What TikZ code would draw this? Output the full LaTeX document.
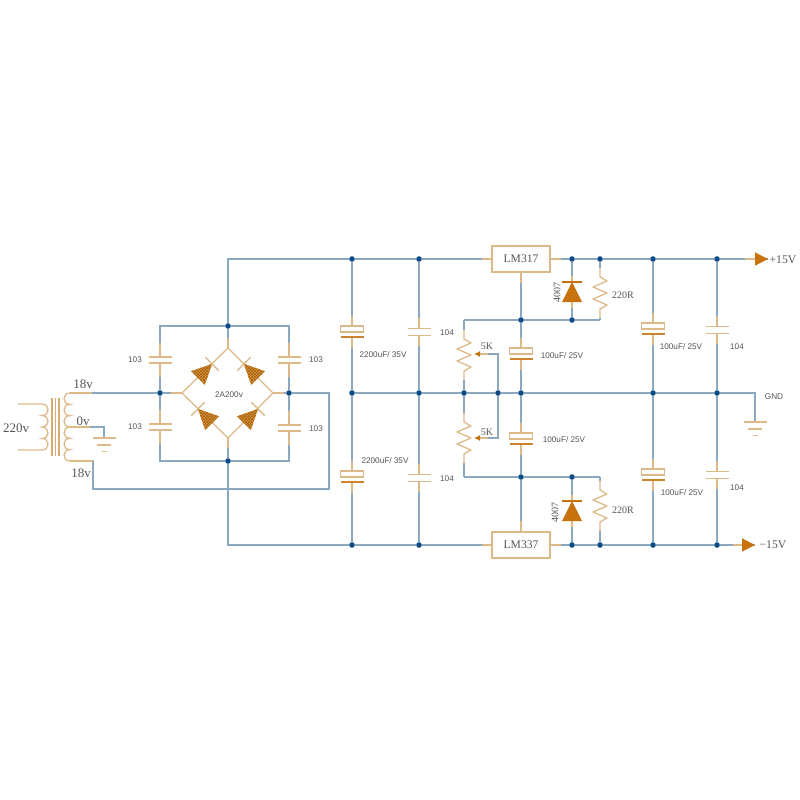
\documentclass[tikz,border=0pt]{standalone}
\usepackage{fontspec}
\setmainfont{Liberation Serif}
\setsansfont{Liberation Sans}
\usetikzlibrary{arrows.meta,patterns}

\definecolor{wirecol}{HTML}{8AA8C0}
\definecolor{leadcol}{HTML}{DDB98A}
\definecolor{dotcol}{HTML}{0E4A85}
\definecolor{partcol}{HTML}{C8720E}
\definecolor{meshcol}{HTML}{D4923F}
\definecolor{textcol}{HTML}{555555}

\tikzset{
	wire/.style={draw=wirecol, line width=1.3pt},
	lead/.style={draw=leadcol, line width=1.3pt},
	dot/.style={circle, fill=dotcol, inner sep=0pt, minimum size=5.6pt},
	lblsans/.style={text=textcol, inner sep=0pt, font=\sffamily\fontsize{8.2}{10}\selectfont},
	lblserif/.style={text=textcol, inner sep=0pt, font=\rmfamily\fontsize{13}{15}\selectfont},
	lblsmall/.style={text=textcol, inner sep=0pt, font=\rmfamily\fontsize{10}{12}\selectfont},
	regbox/.style={draw=leadcol, line width=1.3pt, fill=white, minimum width=58pt, minimum height=26pt, inner sep=0pt, text=textcol, font=\rmfamily\fontsize{11.6}{13}\selectfont},
	capfilm/.pic={
		\coordinate (-t) at (0,-14);
		\coordinate (-b) at (0,14);
		\draw[lead] (-t) -- (0,-3.5);
		\draw[lead] (-b) -- (0,3.5);
		\draw[lead] (-11.5,-3.5) -- (11.5,-3.5);
		\draw[lead] (-11.5,3.5) -- (11.5,3.5);
	},
	capsmall/.pic={
		\coordinate (-t) at (0,-17);
		\coordinate (-b) at (0,17);
		\draw[lead] (-t) -- (0,-3);
		\draw[lead] (-b) -- (0,3);
		\draw[lead] (-11.5,-3) -- (11.5,-3);
		\draw[lead] (-11.5,3) -- (11.5,3);
	},
	capelec/.pic={
		\coordinate (-t) at (0,-13);
		\coordinate (-b) at (0,19);
		\draw[lead] (-t) -- (0,-3);
		\draw[lead] (-b) -- (0,8);
		\draw[lead, fill=white] (-11.5,-3) rectangle (11.5,3);
		\fill[partcol!75!leadcol] (-11.5,7) rectangle (11.5,9);
	},
	resist/.pic={
		\coordinate (-t) at (0,-25);
		\coordinate (-b) at (0,25);
		\draw[lead, line join=round] (-t) -- (0,-16) -- (7,-12) -- (-7,-6) -- (7,0) -- (-7,6) -- (7,12) -- (0,16) -- (-b);
	},
	diodesolid/.pic={
		\coordinate (-t) at (0,-16);
		\coordinate (-b) at (0,16);
		\draw[lead] (-t) -- (0,-10);
		\draw[lead] (-b) -- (0,10);
		\fill[partcol] (0,-10) -- (10,10) -- (-10,10) -- cycle;
		\draw[partcol, line width=1.4pt] (-10,-10) -- (10,-10);
	},
	diodemesh/.pic={
		\fill[meshcol] (10,0) -- (-10,9.7) -- (-10,-9.7) -- cycle;
		\path[pattern=crosshatch, pattern color=partcol!85!black] (10,0) -- (-10,9.7) -- (-10,-9.7) -- cycle;
		\draw[lead] (10,-9.5) -- (10,9.5);
	},
}

\begin{document}
\begin{tikzpicture}[x=1pt, y=-1pt]
	\useasboundingbox (0,0) rectangle (800,800);

	% Junctions
	\foreach \n/\x/\y in {
		brtop/228/326, brbot/228/461, brleft/160/393, brright/289/393,
		topa/352/259, topb/419/259, topc/572/259, topd/600/259, tope/653/259, topf/717/259,
		mida/352/393, midb/419/393, midc/464/393, midd/498/393, mide/521/393, midf/653/393, midg/717/393,
		upa/521/320, upb/572/320,
		lowa/521/477, lowb/572/477,
		bota/352/545, botb/419/545, botc/572/545, botd/600/545, bote/653/545, botf/717/545}
		\node (\n) [dot] at (\x,\y) {};

	% Free ends and corners
	\coordinate (brtv) at (228,348);
	\coordinate (brlv) at (182,393);
	\coordinate (brrv) at (273,393);
	\coordinate (brbv) at (228,438);
	\coordinate (railtop) at (228,259);
	\coordinate (railbot) at (228,545);
	\coordinate (sectop) at (70,393);
	\coordinate (sectap) at (70,427);
	\coordinate (secbot) at (70,461);
	\coordinate (prmtop) at (42,404);
	\coordinate (prmbot) at (42,450);
	\coordinate (prmtopend) at (18,404);
	\coordinate (prmbotend) at (18,450);
	\coordinate (gndl) at (104,438);
	\coordinate (gndr) at (755,422);
	\coordinate (vpos) at (768,259);
	\coordinate (vneg) at (755,545);
	\coordinate (wipera) at (474,354);
	\coordinate (wiperb) at (474,438);
	\coordinate (upleft) at (464,320);
	\coordinate (upright) at (600,320);
	\coordinate (lowleft) at (464,477);
	\coordinate (lowright) at (600,477);

	% Regulators
	\node (lmpos) [regbox] at (521,259) {LM317};
	\node (lmneg) [regbox] at (521,545) {LM337};

	% Parts
	\pic (cba) at (160,360) {capsmall};
	\pic (cbb) at (160,427) {capsmall};
	\pic (cbc) at (289,360) {capsmall};
	\pic (cbd) at (289,428) {capsmall};
	\pic (cea) at (352,329) {capelec};
	\pic (ceb) at (352,474) {capelec};
	\pic (cfa) at (419,332) {capfilm};
	\pic (cfb) at (419,478) {capfilm};
	\pic (cec) at (521,351) {capelec};
	\pic (ced) at (521,436) {capelec};
	\pic (cee) at (653,326) {capelec};
	\pic (cef) at (653,472) {capelec};
	\pic (cfc) at (717,330) {capfilm};
	\pic (cfd) at (717,475) {capfilm};
	\pic (rpa) at (600,293) {resist};
	\pic (rpb) at (600,506) {resist};
	\pic (pota) at (464,355) {resist};
	\pic (potb) at (464,438) {resist};
	\pic (dpa) at (572,292) {diodesolid};
	\pic (dpb) at (572,511) {diodesolid};

	% Bridge
	\draw[lead] (brlv) -- (brtv) -- (brrv) -- (brbv) -- (brlv);
	\pic [rotate=45] at (205,371) {diodemesh};
	\pic [rotate=135] at (251,371) {diodemesh};
	\pic [rotate=135] at (205,416) {diodemesh};
	\pic [rotate=45] at (251,416) {diodemesh};
	\draw[wire] (brtop) -- (brtv);
	\draw[wire] (brbot) -- (brbv);
	\draw[wire] (brleft) -- (brlv);
	\draw[wire] (brright) -- (brrv);
	\draw[lead] (brtv) -- +(0,-10);
	\draw[lead] (brbv) -- +(0,10);
	\draw[lead] (brlv) -- +(-11,0);
	\draw[lead] (brrv) -- +(11,0);
	\draw[wire] (brtop) -| (cba-t);
	\draw[wire] (brtop) -| (cbc-t);
	\draw[wire] (brbot) -| (cbb-b);
	\draw[wire] (brbot) -| (cbd-b);
	\draw[wire] (cba-b) -- (brleft);
	\draw[wire] (brleft) -- (cbb-t);
	\draw[wire] (cbc-b) -- (brright);
	\draw[wire] (brright) -- (cbd-t);

	% Transformer
	\draw[lead] (prmtopend) -- (prmtop)
		\foreach \i in {1,...,4} { .. controls +(8,0) and +(8,0) .. ++(0,11.5) }
		-- (prmbotend);
	\draw[lead] (sectop)
		\foreach \i in {1,...,6} { .. controls +(-8,0) and +(-8,0) .. ++(0,11.33) };
	\foreach \x in {52,55.5,59}
		\draw[leadcol!80!partcol, line width=1.6pt] (\x,398) -- (\x,456);
	\draw[wire] (sectop) -- (brleft);
	\draw[lead] (sectop) -- +(22,0);
	\draw[wire] (sectap) -| (gndl);
	\draw[lead] (sectap) -- +(20,0);
	\draw[wire] (secbot) -| (93,489) -| (329,393) -- (brright);
	\draw[lead] (secbot) -- +(23,0);

	% Rails
	\draw[wire] (brtop) -- (railtop) -- (topa);
	\draw[wire] (topa) -- (topb);
	\draw[wire] (topb) -- (lmpos);
	\draw[wire] (lmpos) -- (topc);
	\draw[wire] (topc) -- (topd);
	\draw[wire] (topd) -- (tope);
	\draw[wire] (tope) -- (topf);
	\draw[wire] (topf) -- (vpos);
	\draw[lead, -{Triangle[length=13pt,width=13pt,color=partcol]}] (745,259) -- (vpos);
	\draw[lead] (lmpos.west) -- +(-9,0);
	\draw[lead] (lmpos.east) -- +(10,0);
	\draw[wire] (brbot) -- (railbot) -- (bota);
	\draw[wire] (bota) -- (botb);
	\draw[wire] (botb) -- (lmneg);
	\draw[wire] (lmneg) -- (botc);
	\draw[wire] (botc) -- (botd);
	\draw[wire] (botd) -- (bote);
	\draw[wire] (bote) -- (botf);
	\draw[wire] (botf) -- (vneg);
	\draw[lead, -{Triangle[length=13pt,width=13pt,color=partcol]}] (733,545) -- (vneg);
	\draw[lead] (lmneg.west) -- +(-9,0);
	\draw[lead] (lmneg.east) -- +(10,0);
	\draw[wire] (mida) -- (midb);
	\draw[wire] (midb) -- (midc);
	\draw[wire] (midc) -- (midd);
	\draw[wire] (midd) -- (mide);
	\draw[wire] (mide) -- (midf);
	\draw[wire] (midf) -- (midg);
	\draw[wire] (midg) -| (gndr);

	% Columns
	\foreach \u/\p/\l in {topa/cea/mida, mida/ceb/bota, topb/cfa/midb, midb/cfb/botb, upa/cec/mide, mide/ced/lowa, tope/cee/midf, midf/cef/bote, topf/cfc/midg, midg/cfd/botf, topc/dpa/upb, lowb/dpb/botc, topd/rpa/upright, lowright/rpb/botd, upleft/pota/midc, midc/potb/lowleft} {
		\draw[wire] (\u) -- (\p-t);
		\draw[wire] (\p-b) -- (\l);
	}
	\draw[wire] (lmpos) -- (upa);
	\draw[wire] (lowa) -- (lmneg);
	\draw[lead] (lmpos.south) -- +(0,10);
	\draw[lead] (lmneg.north) -- +(0,-10);
	\draw[wire] (upleft) -- (upa);
	\draw[wire] (upa) -- (upb);
	\draw[wire] (upb) -- (upright);
	\draw[wire] (lowleft) -- (lowa);
	\draw[wire] (lowa) -- (lowb);
	\draw[wire] (lowb) -- (lowright);

	% Wipers
	\draw[wire] (midd) |- (488,354);
	\draw[lead, -{Latex[length=6pt,width=6pt,color=partcol]}] (488,354) -- (wipera);
	\draw[wire] (midd) |- (488,438);
	\draw[lead, -{Latex[length=6pt,width=6pt,color=partcol]}] (488,438) -- (wiperb);

	% Grounds
	\foreach \gx/\gy in {104/438, 755/422} {
		\draw[lead] (\gx-11.5,\gy) -- (\gx+11.5,\gy);
		\draw[lead] (\gx-7,\gy+7) -- (\gx+7,\gy+7);
		\draw[lead] (\gx-2.5,\gy+13.5) -- (\gx+2.5,\gy+13.5);
	}

	% Labels
	\node (lblprm) [lblserif] at (16,428) {220v};
	\node (lblsa) [lblserif] at (83,384) {18v};
	\node (lblsb) [lblserif] at (83,421) {0v};
	\node (lblsc) [lblserif] at (81,473) {18v};
	\node (lblvp) [lblserif, font=\rmfamily\fontsize{11.7}{13}\selectfont] at (783,260) {+15V};
	\node (lblvn) [lblserif, font=\rmfamily\fontsize{11.7}{13}\selectfont] at (773,545) {−15V};
	\node (lbla) [lblsans] at (135,360) {103};
	\node (lblb) [lblsans] at (135,427) {103};
	\node (lblc) [lblsans] at (316,360) {103};
	\node (lbld) [lblsans] at (316,429) {103};
	\node (lble) [lblsans] at (229,395) {2A200v};
	\node (lblf) [lblsans] at (383,355) {2200uF/ 35V};
	\node (lblg) [lblsans] at (385,461) {2200uF/ 35V};
	\node (lblh) [lblsans] at (447,333) {104};
	\node (lbli) [lblsans] at (447,479) {104};
	\node (lblj) [lblsans] at (562,356) {100uF/ 25V};
	\node (lblk) [lblsans] at (564,440) {100uF/ 25V};
	\node (lbll) [lblsans] at (681,347) {100uF/ 25V};
	\node (lblm) [lblsans] at (682,493) {100uF/ 25V};
	\node (lbln) [lblsans] at (737,347) {104};
	\node (lblo) [lblsans] at (737,488) {104};
	\node (lblgnd) [lblsans] at (774,397) {GND};
	\node (lblpa) [lblsmall] at (487,346) {5K};
	\node (lblpb) [lblsmall] at (487,432) {5K};
	\node (lblra) [lblsmall] at (623,295) {220R};
	\node (lblrb) [lblsmall] at (623,510) {220R};
	\node (lblda) [lblsmall, rotate=90] at (557,292) {4007};
	\node (lbldb) [lblsmall, rotate=90] at (555,512) {4007};
\end{tikzpicture}
\end{document}
